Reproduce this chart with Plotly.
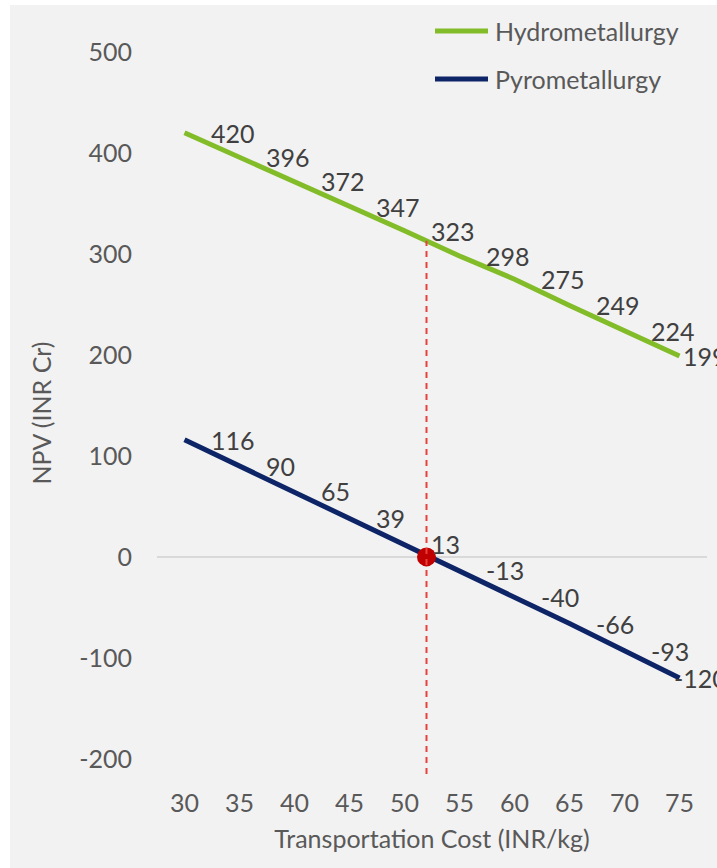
import numpy as np
import plotly.graph_objects as go

# Transportation cost (INR/kg) and NPV (INR Cr) for the two recycling routes
cost = [30, 35, 40, 45, 50, 55, 60, 65, 70, 75]
hydro_npv = [420, 396, 372, 347, 323, 298, 275, 249, 224, 199]
pyro_npv = [116, 90, 65, 39, 13, -13, -40, -66, -93, -120]
series_names = ["Hydrometallurgy", "Pyrometallurgy"]
x_ticks = [30, 35, 40, 45, 50, 55, 60, 65, 70, 75]
y_ticks = [-200, -100, 0, 100, 200, 300, 400, 500]

# Break-even transport cost for the pyrometallurgy route
break_even_cost = 52
break_even_npv = 0

GREEN = "#82BC28"
NAVY = "#0D2467"
RED = "#C00000"
DASH_RED = "#E8413B"
TICK_GREY = "#595959"
LABEL_GREY = "#404040"
BG = "#F2F2F2"
FONT = "Lato"

W, H = 717, 868
L, R, T, B = 157, 10, 52, 94
plot_w = W - L - R
plot_h = H - T - B


def px_x(px):
    return (px - L) / plot_w


def px_y(py):
    return (H - B - py) / plot_h


fig = go.Figure()

colors = [GREEN, NAVY]
for name, ys, col in zip(series_names, [hydro_npv, pyro_npv], colors):
    fig.add_trace(go.Scatter(
        x=cost, y=ys, mode="lines", name=name,
        line=dict(color=col, width=5),
        showlegend=False, hoverinfo="x+y+name",
    ))

# Vertical dashed marker at the break-even cost, up to the hydrometallurgy line
top = float(np.interp(break_even_cost, cost, hydro_npv))
fig.add_shape(type="line", xref="x", yref="y",
              x0=break_even_cost, x1=break_even_cost, y0=-215, y1=top,
              line=dict(color=DASH_RED, width=2, dash="6px,5px"), layer="above")

fig.add_trace(go.Scatter(
    x=[break_even_cost], y=[break_even_npv], mode="markers",
    marker=dict(color=RED, size=19), showlegend=False, hoverinfo="x+y",
))

# Data labels to the right of each point; the end labels are nudged to fit
label_shift = {len(cost) - 1: {0: 1, 1: -8}}
for s, ys in enumerate([hydro_npv, pyro_npv]):
    for i, (xv, yv) in enumerate(zip(cost, ys)):
        shift = label_shift.get(i, {}).get(s, 24)
        fig.add_annotation(
            x=xv, y=yv, xref="x", yref="y", text=str(yv), showarrow=False,
            xanchor="left", yanchor="middle", xshift=shift,
            font=dict(family=FONT, size=25, color=LABEL_GREY),
        )

# Legend drawn as line swatches with text
legend_rows = [31, 79]
for name, col, py in zip(series_names, colors, legend_rows):
    fig.add_shape(type="line", xref="paper", yref="paper",
                  x0=px_x(435), x1=px_x(488), y0=px_y(py), y1=px_y(py),
                  line=dict(color=col, width=5))
    fig.add_annotation(x=px_x(493), y=px_y(py), xref="paper", yref="paper",
                       text=name, showarrow=False, xanchor="left", yanchor="middle",
                       font=dict(family=FONT, size=25, color=TICK_GREY))

# Grey chart area with a thin white border on the left and top
fig.add_shape(type="rect", xref="paper", yref="paper",
              x0=px_x(10), x1=px_x(W + 5), y0=px_y(5), y1=px_y(H + 5),
              fillcolor=BG, line=dict(width=0), layer="below")

fig.update_layout(
    width=W, height=H,
    margin=dict(l=L, r=R, t=T, b=B),
    paper_bgcolor="white",
    plot_bgcolor="rgba(0,0,0,0)",
    font=dict(family=FONT, size=25, color=TICK_GREY),
    showlegend=False,
)

fig.update_xaxes(
    range=[27.5, 77.5], tickvals=x_ticks, ticktext=[str(v) for v in x_ticks],
    showgrid=False, zeroline=False, showline=False, ticks="",
    tickfont=dict(family=FONT, size=25, color=TICK_GREY),
    ticklabelstandoff=12,
    title=dict(text="Transportation Cost (INR/kg)", standoff=14,
               font=dict(family=FONT, size=25, color=TICK_GREY)),
)
fig.update_yaxes(
    range=[-215, 500], tickvals=y_ticks, ticktext=[str(v) for v in y_ticks],
    showgrid=False, zeroline=True, zerolinecolor="#D9D9D9", zerolinewidth=2,
    showline=False, ticks="",
    tickfont=dict(family=FONT, size=25, color=TICK_GREY),
    ticklabelstandoff=24,
    title=dict(text="NPV (INR Cr)", standoff=20,
               font=dict(family=FONT, size=25, color=TICK_GREY)),
)

fig.write_html("out.html")
